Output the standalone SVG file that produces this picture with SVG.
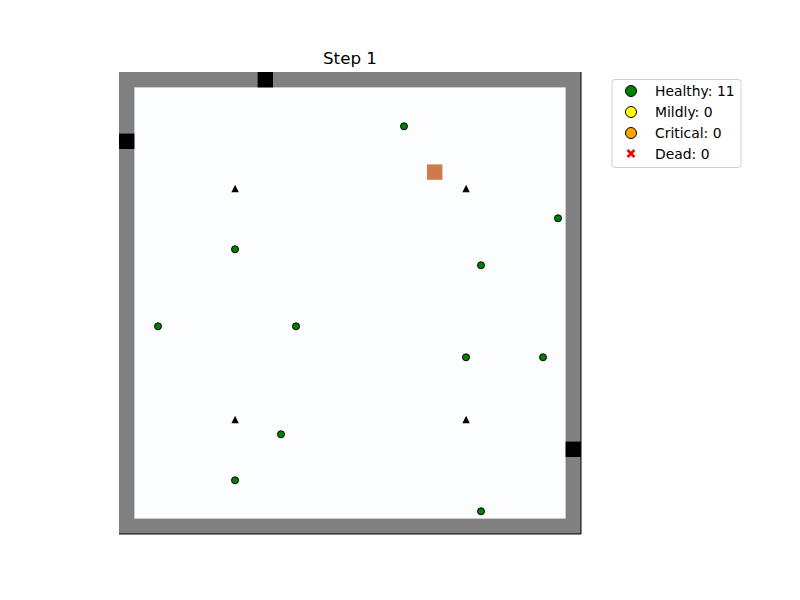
<svg xmlns="http://www.w3.org/2000/svg" width="800" height="600" viewBox="0 0 800 600">
<style>
.wall{fill:#808080}
.door{fill:#000}
.p{fill:#008000;stroke:#000;stroke-width:1}
.tri{fill:#000}
.lt{font-family:"DejaVu Sans",sans-serif;font-size:13.9px;fill:#000}
</style>
<rect width="800" height="600" fill="#fff"/>
<text x="350" y="64" text-anchor="middle" font-family="DejaVu Sans, sans-serif" font-size="16.7px">Step 1</text>
<g id="grid">
<rect x="119" y="72" width="462" height="462" class="wall"/>
<rect x="134.4" y="87.4" width="431.2" height="431.2" fill="#fbfdff"/>
<rect x="257.6" y="72" width="15.4" height="15.4" class="door"/>
<rect x="119" y="133.6" width="15.4" height="15.4" class="door"/>
<rect x="565.6" y="441.6" width="15.4" height="15.4" class="door"/>
<rect x="427" y="164.4" width="15.4" height="15.4" fill="#cd7b48"/>
<line x1="119" y1="534" x2="581" y2="534" stroke="#000" stroke-width="1"/>
<line x1="581" y1="72" x2="581" y2="534" stroke="#000" stroke-width="1"/>
</g>
<g id="obstacles">
<path class="tri" d="M235.1 184.8 L238.8 192.2 L231.4 192.2 Z"/>
<path class="tri" d="M466.1 184.8 L469.8 192.2 L462.4 192.2 Z"/>
<path class="tri" d="M235.1 415.8 L238.8 423.2 L231.4 423.2 Z"/>
<path class="tri" d="M466.1 415.8 L469.8 423.2 L462.4 423.2 Z"/>
</g>
<g id="people">
<circle class="p" cx="404" cy="126.3" r="3.5"/>
<circle class="p" cx="558" cy="218.3" r="3.5"/>
<circle class="p" cx="235" cy="249.3" r="3.5"/>
<circle class="p" cx="481" cy="265.3" r="3.5"/>
<circle class="p" cx="158" cy="326.3" r="3.5"/>
<circle class="p" cx="296" cy="326.3" r="3.5"/>
<circle class="p" cx="466" cy="357.3" r="3.5"/>
<circle class="p" cx="543" cy="357.3" r="3.5"/>
<circle class="p" cx="281" cy="434.3" r="3.5"/>
<circle class="p" cx="235" cy="480.3" r="3.5"/>
<circle class="p" cx="481" cy="511.3" r="3.5"/>
</g>
<g id="legend">
<rect x="612" y="79.5" width="129" height="88" rx="3" fill="#fff" stroke="#d0d0d0" stroke-width="1"/>
<circle cx="631" cy="91" r="5.5" fill="#008000" stroke="#000" stroke-width="1"/>
<circle cx="631" cy="112" r="5.5" fill="#ffff00" stroke="#000" stroke-width="1"/>
<circle cx="631" cy="133" r="5.5" fill="#ffa500" stroke="#000" stroke-width="1"/>
<path d="M627.5 150 L634.5 157 M634.5 150 L627.5 157" stroke="#ff0000" stroke-width="2.5"/>
<text class="lt" x="655" y="95.5">Healthy: 11</text>
<text class="lt" x="655" y="116.5">Mildly: 0</text>
<text class="lt" x="655" y="137.5">Critical: 0</text>
<text class="lt" x="655" y="158.5">Dead: 0</text>
</g>
</svg>
